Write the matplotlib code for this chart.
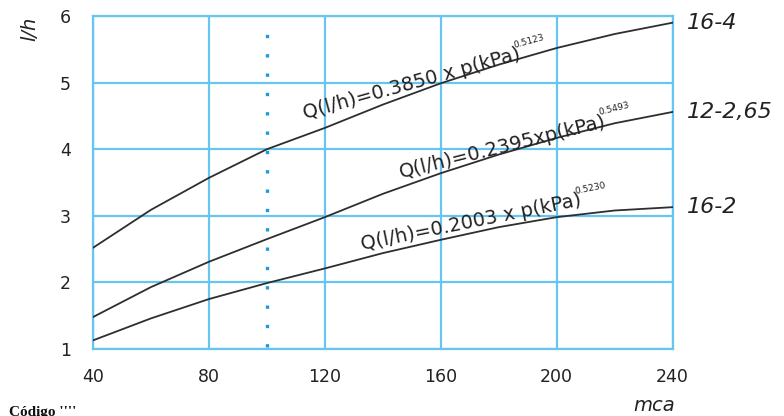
import matplotlib
import matplotlib.pyplot as plt
from matplotlib.font_manager import FontProperties
from matplotlib.transforms import offset_copy
import numpy as np

matplotlib.use("Agg")

plt.rcParams["font.family"] = ["DejaVu Sans"]

GRID_BLUE = "#66c6f0"
DOT_BLUE = "#1a9be0"
CURVE = "#2e2e2e"
TEXT = "#222222"

# pressao (mca) e caudal (l/h)
mca = [40, 60, 80, 100, 120, 140, 160, 180, 200, 220, 240]
q_16_4 = [2.52, 3.09, 3.57, 4.00, 4.32, 4.67, 4.99, 5.27, 5.52, 5.73, 5.90]
q_12_265 = [1.48, 1.93, 2.31, 2.65, 2.98, 3.33, 3.64, 3.92, 4.17, 4.39, 4.56]
q_16_2 = [1.13, 1.46, 1.75, 1.99, 2.21, 2.44, 2.64, 2.83, 2.98, 3.08, 3.13]

series_names = ["16-4", "12-2,65", "16-2"]
formulas = [
    "Q(l/h)=0.3850 x p(kPa)",
    "Q(l/h)=0.2395xp(kPa)",
    "Q(l/h)=0.2003 x p(kPa)",
]
expoentes = ["0.5123", "0.5493", "0.5230"]
# inicio da linha de base (mca, l/h) e rotacao de cada formula
formula_pos = [(113.1, 4.45), (146.2, 3.57), (132.8, 2.48)]
formula_rot = [15.5, 14, 11.5]

x_ticks = [40, 80, 120, 160, 200, 240]
y_ticks = [1, 2, 3, 4, 5, 6]
ref_mca = 100

fig = plt.figure(figsize=(7.84, 4.16), dpi=100)
ax = fig.add_axes([0.1186, 0.161, 0.7394, 0.8005])

ax.set_xlim(40, 240)
ax.set_ylim(1, 6)
ax.set_xticks(x_ticks)
ax.set_yticks(y_ticks)
ax.grid(True, color=GRID_BLUE, linewidth=1.6)
ax.set_axisbelow(True)
for spine in ax.spines.values():
    spine.set_color(GRID_BLUE)
    spine.set_linewidth(1.6)
ax.tick_params(length=0, labelsize=12.5, colors=TEXT, pad=14)
ax.tick_params(axis="y", pad=16)

ax.plot([ref_mca, ref_mca], [1.03, 5.8], color=DOT_BLUE, linewidth=2.4,
        linestyle=(0, (1, 4.8)), zorder=2)

for serie in [q_16_4, q_12_265, q_16_2]:
    ax.plot(mca, serie, color=CURVE, linewidth=1.3, zorder=3)

for serie, name in zip([q_16_4, q_12_265, q_16_2], series_names):
    ax.annotate(name, xy=(240, serie[-1]), xytext=(10, 0), textcoords="offset points",
                fontsize=16, style="italic", color=TEXT, va="center", ha="left",
                annotation_clip=False)

# formulas ao longo das curvas, com expoente pequeno no fim
fs_main = 14
props = FontProperties(family="DejaVu Sans", size=fs_main)
fig.canvas.draw()
renderer = fig.canvas.get_renderer()
for texto, expo, (px, py), rot in zip(formulas, expoentes, formula_pos, formula_rot):
    ax.text(px, py, texto, fontproperties=props, color=TEXT, rotation=rot,
            rotation_mode="anchor", ha="left", va="baseline", zorder=4)
    w_px, h_px, _ = renderer.get_text_width_height_descent(texto, props, ismath=False)
    w_pt = w_px * 72 / fig.dpi - 3
    up_pt = 9.5
    ang = np.radians(rot)
    dx = w_pt * np.cos(ang) - up_pt * np.sin(ang)
    dy = w_pt * np.sin(ang) + up_pt * np.cos(ang)
    tr = offset_copy(ax.transData, fig=fig, x=dx, y=dy, units="points")
    ax.text(px, py, expo, transform=tr, fontsize=6.5, color=TEXT, rotation=rot,
            rotation_mode="anchor", ha="left", va="baseline", zorder=4)

fig.text(0.038, 0.93, "l/h", rotation=90, fontsize=14, style="italic",
         color=TEXT, ha="center", va="center")
fig.text(0.835, 0.025, "mca", fontsize=14, style="italic", color=TEXT,
         ha="center", va="center")
fig.text(0.012, -0.008, "Código ''''", fontsize=11, fontweight="bold",
         family="Liberation Serif", color="#111111", ha="left", va="bottom")

fig.savefig("out.png", dpi=100)
